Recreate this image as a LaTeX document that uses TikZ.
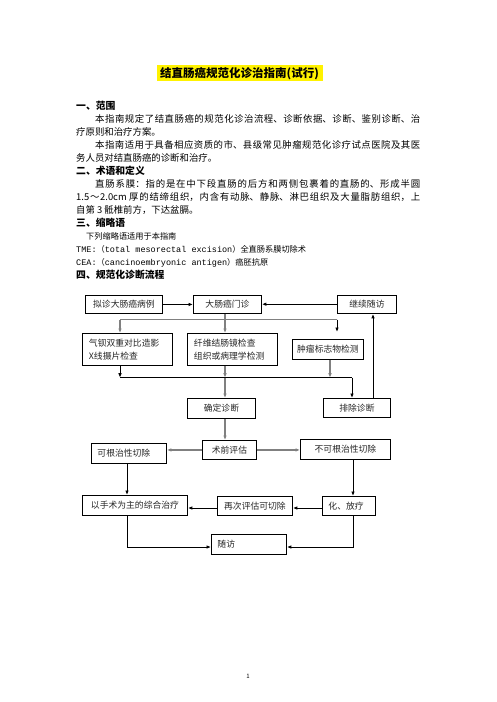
\documentclass[tikz,border=0pt]{standalone}
\usepackage{fontspec}
\setmainfont{Noto Sans CJK SC}
\newfontfamily\monof{Liberation Mono}
\usetikzlibrary{arrows.meta}
\XeTeXlinebreaklocale "zh"
\XeTeXlinebreakskip=0pt plus 2pt
\newcommand\jline[2]{\parbox[b]{#1}{\tolerance=10000\relax\parfillskip=0pt\relax #2}}
\begin{document}
\begin{tikzpicture}[x=1pt,y=-1pt,
  txt/.style={anchor=base west,inner sep=0pt,font=\fontsize{9.4}{13}\selectfont},
  smalltxt/.style={anchor=base west,inner sep=0pt,font=\fontsize{8.2}{12}\selectfont},
  head/.style={anchor=base west,inner sep=0pt,font=\fontsize{9.8}{13}\selectfont\bfseries},
  box/.style={draw,line width=0.9pt,inner sep=0pt,anchor=north west,text=black!85,font=\fontsize{8.8}{13}\selectfont},
  blk/.style={line width=0.9pt,black},
  gry/.style={line width=1.8pt,black!50},
  arr/.style={-{Latex[length=4.5pt,width=3.6pt]}}]
\useasboundingbox (0,0) rectangle (496,702);
\fill[white] (0,0) rectangle (496,702);
% title
\fill[yellow] (157,65) rectangle (323,80.5);
\node[anchor=base,inner sep=0pt,font=\fontsize{11.5}{14}\selectfont\bfseries] (title) at (239.5,77.5) {结直肠癌规范化诊治指南(试行)};
% text
\node[head] (h1) at (76,109) {一、范围};
\node[txt] (p1) at (95,122.5) {\jline{325pt}{本指南规定了结直肠癌的规范化诊治流程、诊断依据、诊断、鉴别诊断、治}};
\node[txt] (p2) at (76,135.5) {疗原则和治疗方案。};
\node[txt] (p3) at (95,148.5) {\jline{325pt}{本指南适用于具备相应资质的市、县级常见肿瘤规范化诊疗试点医院及其医}};
\node[txt] (p4) at (76,161.5) {务人员对结直肠癌的诊断和治疗。};
\node[head] (h2) at (76,174.5) {二、术语和定义};
\node[txt] (p5) at (95,187.5) {\jline{325pt}{直肠系膜：指的是在中下段直肠的后方和两侧包裹着的直肠的、形成半圆}};
\node[txt] (p6) at (76,200.5) {\jline{344pt}{1.5～2.0cm 厚的结缔组织，内含有动脉、静脉、淋巴组织及大量脂肪组织，上}};
\node[txt] (p7) at (76,213.5) {自第 3 骶椎前方，下达盆膈。};
\node[head] (h3) at (76,226.5) {三、缩略语};
\node[smalltxt] (p8) at (86,239) {下列缩略语适用于本指南};
\node[smalltxt] (p9) at (76,252) {{\monof\fontsize{8.5}{12}\selectfont TME:}（{\monof\fontsize{8.5}{12}\selectfont total mesorectal excision}）全直肠系膜切除术};
\node[smalltxt] (p10) at (76,265) {{\monof\fontsize{8.5}{12}\selectfont CEA:}（{\monof\fontsize{8.5}{12}\selectfont cancinoembryonic antigen}）癌胚抗原};
\node[head] (h4) at (76,278.5) {四、规范化诊断流程};
% boxes
\node[box,minimum width=77pt,minimum height=18pt] (b1) at (85,295) {拟诊大肠癌病例};
\node[box,minimum width=68pt,minimum height=18pt] (b2) at (193,295) {大肠癌门诊};
\node[box,minimum width=59pt,minimum height=18.5pt] (b3) at (337,294.5) {继续随访};
\node[box,minimum width=90pt,minimum height=32pt,text width=77pt,inner xsep=6.5pt,align=left] (b4) at (82,333) {气钡双重对比造影\\X线摄片检查};
\node[box,minimum width=90pt,minimum height=32pt,text width=77pt,inner xsep=6.5pt,align=left] (b5) at (187,333) {纤维结肠镜检查\\组织或病理学检测};
\node[box,minimum width=71pt,minimum height=20pt] (b6) at (292,339) {肿瘤标志物检测};
\node[box,minimum width=68pt,minimum height=20pt] (b7) at (187,398) {确定诊断};
\node[box,minimum width=67pt,minimum height=19pt] (b8) at (323,398) {排除诊断};
\node[box,minimum width=54pt,minimum height=19pt] (b9) at (202,440) {术前评估};
\node[box,minimum width=75pt,minimum height=20pt,text width=63pt,inner xsep=6pt,align=left] (b10) at (91,443) {可根治性切除};
\node[box,minimum width=90pt,minimum height=20pt] (b11) at (300,439) {不可根治性切除};
\node[box,minimum width=105pt,minimum height=20pt] (b12) at (82,495) {以手术为主的综合治疗};
\node[box,minimum width=75pt,minimum height=19pt] (b13) at (217,496) {再次评估可切除};
\node[box,minimum width=53pt,minimum height=19pt,text width=41pt,inner xsep=6pt,align=left] (b14) at (322,496) {化、放疗};
\node[box,minimum width=75pt,minimum height=20pt,text width=63pt,inner xsep=6pt,align=left] (b15) at (211,534) {随访};
% coordinates
\coordinate (s1) at (225,319.5);
\coordinate (bl) at (120,319.5);
\coordinate (br) at (337,319.5);
\coordinate (t6) at (337,332);
\coordinate (ml) at (120,377.7);
\coordinate (mm) at (225,377.7);
\coordinate (m3) at (330,377.7);
\coordinate (mr) at (352,377.7);
\coordinate (u) at (373,398);
\coordinate (v1) at (127,547);
\coordinate (v2) at (353,547);
\coordinate (hh) at (0,508);
% connectors
\draw[blk,arr] (b1.east) -- (b1.east -| b2.west);
\draw[blk,arr] (b3.west) -- (b3.west -| b2.east);
\draw[gry] (b2.south -| s1) -- (s1);
\draw[gry] (bl) -- (br);
\draw[gry,arr] (bl) -- (bl |- b4.north);
\draw[gry,arr] (s1) -- (s1 |- b5.north);
\draw[blk,arr] (br) -- (t6);
\draw[blk,arr] (b4.south -| ml) -- (ml);
\draw[gry,arr] (b5.south -| mm) -- (mm);
\draw[gry,arr] (b6.south -| m3) -- (m3);
\draw[blk] (ml) -- (mr);
\draw[gry,arr] (mm) -- (mm |- b7.north);
\draw[blk,arr] (mr) -- (mr |- b8.north);
\draw[blk,arr] (b8.north -| u) -- (b3.south -| u);
\draw[gry,arr] (b7.south -| mm) -- (b9.north -| mm);
\draw[gry,arr] (b9.west) -- (b9.west -| b10.east);
\draw[gry,arr] (b9.east) -- (b9.east -| b11.west);
\draw[blk,arr] (b10.south -| v1) -- (b12.north -| v1);
\draw[blk,arr] (b11.south -| v2) -- (b14.north -| v2);
\draw[blk,arr] (b14.west |- hh) -- (b13.east |- hh);
\draw[blk,arr] (b13.west |- hh) -- (b12.east |- hh);
\draw[blk,arr] (b12.south -| v1) -- (v1) -- (b15.west |- v1);
\draw[blk,arr] (b14.south -| v2) -- (v2) -- (b15.east |- v2);
% page number
\node[anchor=base,inner sep=0pt,font=\fontsize{6}{7}\selectfont] (pn) at (248,678) {1};
\end{tikzpicture}
\end{document}
